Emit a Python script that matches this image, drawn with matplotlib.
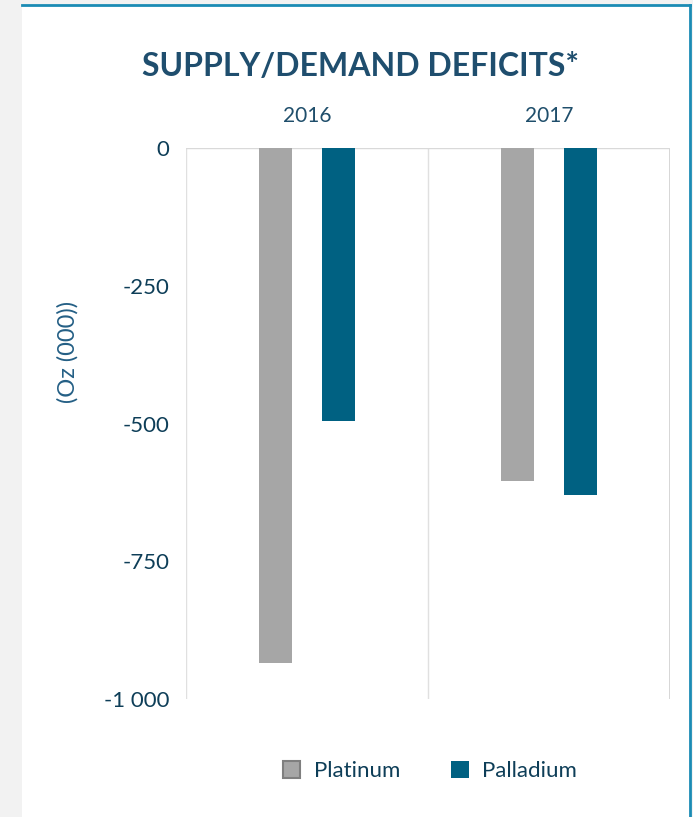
import matplotlib.pyplot as plt
from matplotlib.patches import Rectangle
import numpy as np

years = ["2016", "2017"]
platinum = [-935, -604]
palladium = [-495, -630]
yticks = [0, -250, -500, -750, -1000]
ytick_labels = ["0", "-250", "-500", "-750", "-1 000"]

plt.rcParams['font.family'] = ['Lato', 'DejaVu Sans']

W, H = 693, 817
fig = plt.figure(figsize=(W / 100, H / 100), dpi=100)
fig.patch.set_facecolor('#f2f2f2')

# white card with teal edge on top and right
card = Rectangle((22 / W, 0), (690 - 22) / W, 1 - 5 / H,
                 transform=fig.transFigure, facecolor='white',
                 edgecolor='none', zorder=-5)
fig.add_artist(card)
fig.add_artist(plt.Line2D([22 / W, 690 / W], [1 - 5 / H, 1 - 5 / H],
                          transform=fig.transFigure, color='#1b8bb4', lw=2))
fig.add_artist(plt.Line2D([690 / W, 690 / W], [0, 1 - 5 / H],
                          transform=fig.transFigure, color='#1b8bb4', lw=2))

ax = fig.add_axes([186 / W, 1 - 699 / H, 484 / W, 551 / H])
ax.set_zorder(1)
ax.set_facecolor('none')

x = np.arange(len(years))
w = 0.136
off = 0.129
ax.bar(x - off, platinum, w, color='#a6a6a6', label='Platinum', zorder=3)
ax.bar(x + off, palladium, w, color='#006182', label='Palladium', zorder=3)

ax.set_xlim(-0.5, 1.5)
ax.set_ylim(-1000, 0)

for b in [-0.5, 0.5]:
    ax.axvline(b, color='#e0e0e0', lw=1, zorder=1)
ax.axvline(1.5, color='#d0d0d0', lw=1.2, zorder=1)
ax.axhline(0, color='#d9d9d9', lw=1, zorder=2)

for s in ax.spines.values():
    s.set_visible(False)

ax.xaxis.tick_top()
ax.set_xticks(x)
ax.set_xticklabels(years, fontsize=15, color='#1f4e6b')
ax.tick_params(axis='x', length=0, pad=16)
ax.set_yticks(yticks)
ax.set_yticklabels(ytick_labels, fontsize=16, color='#0e3e58')
ax.tick_params(axis='y', length=0, pad=12)

fig.text(68 / W, 1 - 352 / H, "(Oz (000))", rotation=90, ha='center', va='center',
         fontsize=17, color='#245f85')
fig.text(361 / W, 1 - 66 / H, "SUPPLY/DEMAND DEFICITS*", ha='center', va='center',
         fontsize=23, fontweight='bold', color='#1f4e6e')

leg = ax.legend(loc='center', bbox_to_anchor=(430 / W, 1 - 771 / H),
                bbox_transform=fig.transFigure, ncol=2, frameon=False,
                fontsize=16, handlelength=0.8, handleheight=0.8,
                columnspacing=2.3, handletextpad=0.6)
for t in leg.get_texts():
    t.set_color('#0e3e58')
leg.legend_handles[0].set_edgecolor('#7f7f7f')
leg.legend_handles[0].set_linewidth(1.5)

fig.savefig('out.png', dpi=100, facecolor=fig.get_facecolor())
